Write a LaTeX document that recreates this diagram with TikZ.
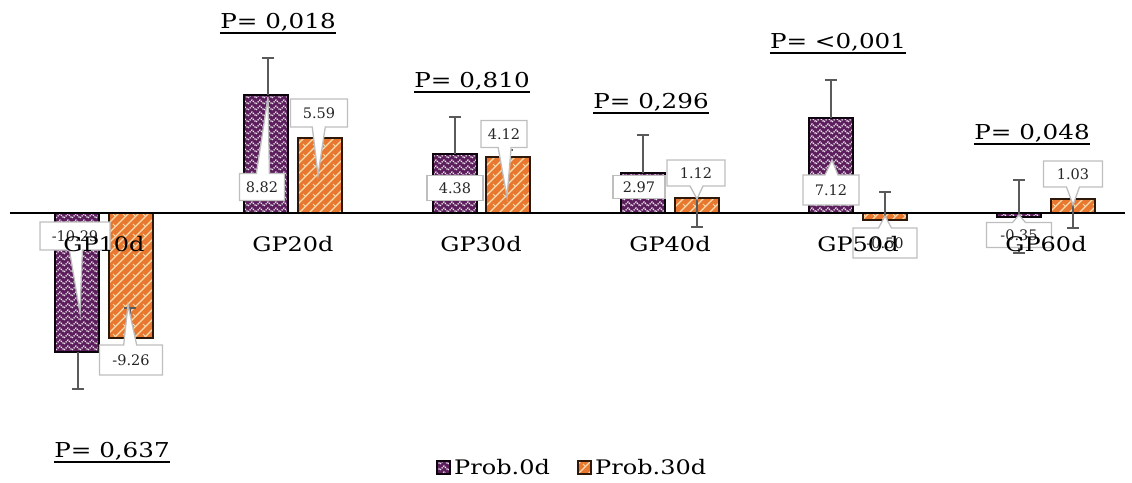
\documentclass[tikz,border=0pt]{standalone}
\usepackage{fontspec}
\setmainfont{DejaVu Serif}[FakeStretch=1.2]
\newfontfamily\lblfont{DejaVu Serif}
\usetikzlibrary{shapes.callouts,patterns.meta}
\definecolor{barpurple}{RGB}{92,30,92}
\definecolor{barorange}{RGB}{232,120,48}
\definecolor{cream}{RGB}{250,222,175}
\definecolor{errgray}{RGB}{90,90,90}
\definecolor{boxgray}{RGB}{190,190,190}
\tikzdeclarepattern{
  name=zigzag,
  type=uncolored,
  bounding box={(-1pt,-1pt) and (9pt,7pt)},
  tile size={(8pt,6pt)},
  code={
    \draw[line width=1.4pt, dash pattern=on 1.4pt off 0.9pt] (0pt,0pt) -- (4pt,4pt) -- (8pt,0pt);
  }
}
\tikzdeclarepattern{
  name=scales,
  type=uncolored,
  bounding box={(-1pt,-1pt) and (11pt,11pt)},
  tile size={(10pt,10pt)},
  code={
    \draw[line width=1.3pt] (0pt,0pt) -- (10pt,10pt);
    \draw[line width=1pt] (3pt,8pt) -- (5pt,6pt);
  }
}
\tikzset{
  pfill/.style={fill=barpurple, postaction={pattern=zigzag, pattern color=white!88!barpurple}, postaction={draw=black!85!barpurple, line width=1.3pt}},
  ofill/.style={fill=barorange, postaction={pattern=scales, pattern color=cream}, postaction={draw=black!80!barorange, line width=1.3pt}},
  errbar/.style={draw=errgray, line width=1.2pt},
  lbl/.style={rectangle callout, draw=boxgray, fill=white, line width=1.3pt, text=black!85, inner sep=2pt, callout pointer width=13pt, font=\lblfont\fontsize{14.5}{16}\selectfont},
  lblplain/.style={rectangle, draw=boxgray, fill=white, line width=1.3pt, text=black!85, inner sep=2pt, font=\lblfont\fontsize{14.5}{16}\selectfont},
  cat/.style={text=black, inner sep=0pt, font=\fontsize{20}{24}\selectfont},
  plab/.style={anchor=base, text=black, inner sep=0pt, font=\fontsize{20.5}{24}\selectfont},
  uline/.style={draw=black, line width=1.6pt},
  leg/.style={anchor=west, text=black, inner sep=0pt, font=\fontsize{20}{24}\selectfont},
}
\newcommand\pbarx[3]{\path[pfill] (#1-22,#2) rectangle (#1+22,#3);}
\newcommand\obarx[3]{\path[ofill] (#1-22,#2) rectangle (#1+22,#3);}
\newcommand\errx[3]{\draw[errbar] (#1,#2) -- (#1,#3) (#1-6,#3) -- (#1+6,#3);}
\begin{document}
\begin{tikzpicture}[x=1pt,y=-1pt]
\useasboundingbox (0,0) rectangle (1132,482);
% bars
\pbarx{77}{213}{352}
\obarx{131}{213}{338}
\pbarx{266}{95}{213}
\obarx{320}{138}{213}
\pbarx{455}{154}{213}
\obarx{508}{157}{213}
\pbarx{643}{173}{213}
\obarx{697}{198}{213}
\pbarx{831}{118}{213}
\obarx{885}{213}{220}
\pbarx{1019}{213}{217}
\obarx{1073}{199}{213}
% axis
\coordinate (axl) at (10,213);
\coordinate (axr) at (1125,213);
\draw[line width=1.8pt] (axl) -- (axr);
% error bars
\errx{78}{352}{389}
\errx{130}{338}{308}
\errx{268}{95}{58}
\errx{455}{154}{117}
\errx{507}{157}{150}
\errx{643}{173}{135}
\errx{697}{198}{227}
\errx{831}{118}{80}
\errx{885}{220}{192}
\errx{1019}{217}{180}
\errx{1019}{217}{253}
\errx{1073}{199}{228}
% data callouts
\node[lbl, minimum width=70pt, minimum height=28pt, callout absolute pointer={(80,313)}] (l10a) at (75,236) {-10.29};
\node[lbl, minimum width=63pt, minimum height=30pt, callout absolute pointer={(128,305)}] (l10b) at (131,360) {-9.26};
\node[lbl, minimum width=45pt, minimum height=27pt, callout absolute pointer={(268,97)}] (l20a) at (262,187) {8.82};
\node[lbl, minimum width=57pt, minimum height=28pt, callout absolute pointer={(318,175)}] (l20b) at (319,113) {5.59};
\node[lblplain, minimum width=56pt, minimum height=25pt] (l30a) at (455,188) {4.38};
\node[lbl, minimum width=46pt, minimum height=27pt, callout absolute pointer={(507,197)}] (l30b) at (504,134) {4.12};
\node[lblplain, minimum width=52pt, minimum height=23pt] (l40a) at (639,187) {2.97};
\node[lbl, minimum width=58pt, minimum height=26pt, callout absolute pointer={(697,199)}] (l40b) at (696,173) {1.12};
\node[lbl, minimum width=56pt, minimum height=30pt, callout absolute pointer={(832,160)}] (l50a) at (831,190) {7.12};
\node[lbl, minimum width=64pt, minimum height=30pt, callout absolute pointer={(885,216)}] (l50b) at (885,243) {-0.50};
\node[lbl, minimum width=65pt, minimum height=25pt, callout absolute pointer={(1019,215)}] (l60a) at (1019,235) {-0.35};
\node[lbl, minimum width=59pt, minimum height=26pt, callout absolute pointer={(1073,205)}] (l60b) at (1073,174) {1.03};
% category labels
\node[cat] (c10) at (104,244) {GP10d};
\node[cat] (c20) at (293,244) {GP20d};
\node[cat] (c30) at (481,244) {GP30d};
\node[cat] (c40) at (670,244) {GP40d};
\node[cat] (c50) at (858,244) {GP50d};
\node[cat] (c60) at (1046,244) {GP60d};
% P labels
\node[plab] (p10) at (112,457) {P= 0,637};
\node[plab] (p20) at (278,28) {P= 0,018};
\node[plab] (p30) at (472,87) {P= 0,810};
\node[plab] (p40) at (651,108) {P= 0,296};
\node[plab] (p50) at (838,48) {P= <0,001};
\node[plab] (p60) at (1032,139) {P= 0,048};
\foreach \n in {p10,p20,p30,p40,p50,p60}{
  \draw[uline] ([yshift=-5pt]\n.base west) -- ([yshift=-5pt]\n.base east);
}
% legend
\path[pfill] (437,461) rectangle (450,474);
\node[leg] (lg1) at (454,467) {Prob.0d};
\path[ofill] (578,461) rectangle (591,474);
\node[leg] (lg2) at (595,467) {Prob.30d};
\end{tikzpicture}
\end{document}
